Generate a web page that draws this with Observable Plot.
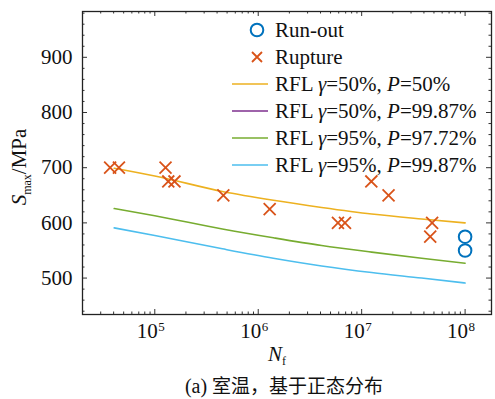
<!DOCTYPE html>
<html><head><meta charset="utf-8">
<script src="https://cdn.jsdelivr.net/npm/d3@7"></script>
<script src="https://cdn.jsdelivr.net/npm/@observablehq/plot@0.6"></script>
<style>
body{margin:0;background:#fff;}
#wrap{position:relative;width:495px;height:399px;overflow:hidden;}
#chart svg text{font-family:"Liberation Serif","Times New Roman",Times,serif;}
#cap{position:absolute;left:84px;width:400px;top:374px;text-align:center;font-size:20px;line-height:22px;color:#111;font-family:"Liberation Serif","Times New Roman",Times,serif;}
#cap .zh{font-family:"Noto Sans CJK SC",sans-serif;font-size:19px;}
</style>
</head><body>
<div id="wrap"><div id="chart"></div><div id="cap">(a) <span class="zh">室温，基于正态分布</span></div></div>
<script>
// ---- data ----
const runoutN = [1e8, 1e8];
const runoutS = [575, 550];
const ruptureN = [3.7e4, 4.5e4, 1.27e5, 1.35e5, 1.55e5, 4.6e5, 1.29e6, 5.9e6, 6.9e6, 1.24e7, 1.82e7, 4.6e7, 4.8e7];
const ruptureS = [700, 700, 700, 675, 675, 650, 625, 600, 600, 675, 650, 575, 600];
const curveN = [4.05e4, 1e5, 4.5e5, 1.4e6, 4.1e6, 1.25e7, 3.8e7, 1e8];
const rfl50_50 = [699, 685, 657, 641, 628, 616, 607, 600];
const rfl95_9772 = [626, 613, 589, 573, 559, 547, 536, 527];
const rfl95_9987 = [591, 577, 553, 536, 522, 510, 500, 491];
const xMajor = [1e5, 1e6, 1e7, 1e8];
const yMajor = [500, 600, 700, 800, 900];
const legendLabels = ["Run-out", "Rupture", "RFL γ=50%, P=50%", "RFL γ=50%, P=99.87%", "RFL γ=95%, P=97.72%", "RFL γ=95%, P=99.87%"];
const colors = {runout:"#0072BD", rupture:"#D95319", c1:"#EDB120", c2:"#7E2F8E", c3:"#77AC30", c4:"#4DBEEE"};

const xDomain = [2e4, 1.8e8];
const yDomain = [434, 983];
const xMinor = [];
for (let e = 4; e <= 8; e++) for (let m = 2; m <= 9; m++) { const v = m * 10 ** e; if (v > xDomain[0] && v < xDomain[1]) xMinor.push(v); }
const yMinor = [];
for (let v = 440; v < 983; v += 20) if (v % 100 !== 0) yMinor.push(v);

const rupture = ruptureN.map((n, i) => ({n, s: ruptureS[i]}));
const runout = runoutN.map((n, i) => ({n, s: runoutS[i]}));
const curves = [
  {vals: rfl50_50, color: colors.c1},
  {vals: rfl95_9772, color: colors.c3},
  {vals: rfl95_9987, color: colors.c4}
];
const tk = "#333";
const PH = 303, PW = 409;
const FF = "'Liberation Serif','Times New Roman',Times,serif";

const marks = [];
for (const c of curves) {
  marks.push(Plot.line(curveN.map((n, i) => ({n, s: c.vals[i]})), {x: "n", y: "s", stroke: c.color, strokeWidth: 1.6, curve: "monotone-x"}));
}
marks.push(
  Plot.dot(rupture, {x: "n", y: "s", symbol: "times", r: 5.5, stroke: colors.rupture, strokeWidth: 1.8}),
  Plot.dot(runout, {x: "n", y: "s", symbol: "circle", r: 6.3, stroke: colors.runout, strokeWidth: 2, fill: "none"}),
  // ticks inward
  Plot.tickX(xMajor, {x: d => d, insetTop: PH - 5, stroke: tk}),
  Plot.tickX(xMajor, {x: d => d, insetBottom: PH - 5, stroke: tk}),
  Plot.tickX(xMinor, {x: d => d, insetTop: PH - 2.5, stroke: tk}),
  Plot.tickX(xMinor, {x: d => d, insetBottom: PH - 2.5, stroke: tk}),
  Plot.tickY(yMajor, {y: d => d, insetRight: PW - 5, stroke: tk}),
  Plot.tickY(yMajor, {y: d => d, insetLeft: PW - 5, stroke: tk}),
  Plot.tickY(yMinor, {y: d => d, insetRight: PW - 2.5, stroke: tk}),
  Plot.tickY(yMinor, {y: d => d, insetLeft: PW - 2.5, stroke: tk}),
  Plot.frame({stroke: "#222", strokeWidth: 1.3}),
  // tick labels
  Plot.text(yMajor, {x: xDomain[0], y: d => d, text: d => String(d), textAnchor: "end", dx: -10, fontSize: 21, fontFamily: FF, fill: "#111"}),
  Plot.text(xMajor, {x: d => d, y: yDomain[0], text: () => "10", textAnchor: "end", dx: 3, dy: 17, fontSize: 21, fontFamily: FF, fill: "#111"}),
  Plot.text(xMajor, {x: d => d, y: yDomain[0], text: d => String(Math.round(Math.log10(d))), textAnchor: "start", dx: 3.5, dy: 12, fontSize: 13, fontFamily: FF, fill: "#111"})
);

const chart = Plot.plot({
  width: 495, height: 372,
  marginLeft: 82, marginRight: 4, marginTop: 11, marginBottom: 58,
  x: {type: "log", domain: xDomain, axis: null},
  y: {domain: yDomain, axis: null},
  style: {fontFamily: FF, fontSize: "21px", background: "white", overflow: "visible"},
  marks
});
document.getElementById("chart").appendChild(chart);

const svg = d3.select(chart);
// y-axis label
const yl = svg.append("text").attr("transform", "translate(26,167) rotate(-90)").attr("text-anchor", "middle")
  .attr("font-family", FF).attr("font-size", 21).attr("fill", "#111");
yl.append("tspan").attr("font-style", "italic").text("S");
yl.append("tspan").attr("font-size", 12).attr("dy", 5).text("max");
yl.append("tspan").attr("dy", -5).text("/MPa");
// x-axis label
const xl = svg.append("text").attr("x", 277).attr("y", 361).attr("text-anchor", "middle")
  .attr("font-family", FF).attr("font-size", 21).attr("fill", "#111");
xl.append("tspan").attr("font-style", "italic").text("N");
xl.append("tspan").attr("font-size", 12).attr("dy", 4).text("f");

// legend
const lg = svg.append("g").attr("font-family", FF).attr("font-size", 21).attr("fill", "#111").attr("text-anchor", "start");
const rowY = [30, 57, 84, 111, 138, 165];
const lineColors = [null, null, colors.c1, colors.c2, colors.c3, colors.c4];
legendLabels.forEach((lab, i) => {
  const y = rowY[i];
  if (i === 0) lg.append("circle").attr("cx", 257).attr("cy", y).attr("r", 6.3).attr("fill", "none").attr("stroke", colors.runout).attr("stroke-width", 2);
  else if (i === 1) lg.append("path").attr("d", `M${252},${y-5}L${262},${y+5}M${252},${y+5}L${262},${y-5}`).attr("stroke", colors.rupture).attr("stroke-width", 1.8);
  else lg.append("line").attr("x1", 232).attr("x2", 268).attr("y1", y).attr("y2", y).attr("stroke", lineColors[i]).attr("stroke-width", 1.6);
  const t = lg.append("text").attr("x", 275).attr("y", y).attr("dy", "0.35em");
  if (i < 2) { t.text(lab); return; }
  const m = lab.match(/^RFL (γ)(=\d+%, )(P)(=.*)$/);
  t.append("tspan").text("RFL ");
  t.append("tspan").attr("font-style", "italic").text(m[1]);
  t.append("tspan").text(m[2]);
  t.append("tspan").attr("font-style", "italic").text(m[3]);
  t.append("tspan").text(m[4]);
});
</script>
</body></html>
